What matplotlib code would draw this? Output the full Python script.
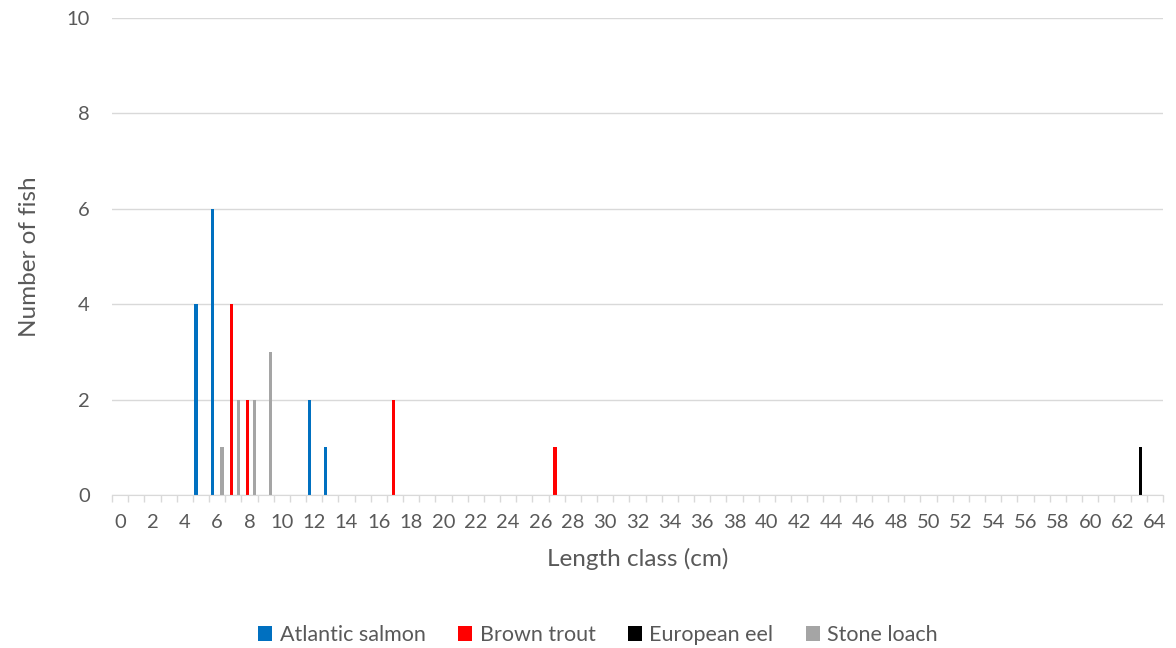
import numpy as np
import matplotlib.pyplot as plt
from matplotlib.patches import Patch

plt.rcParams['font.family'] = ['Lato', 'DejaVu Sans']

# classes de comprimento 0..64 cm
classes = np.arange(0, 65)

# contagens por espécie (classe: número de peixes)
salmon = {5: 4, 6: 6, 12: 2, 13: 1}
trout = {7: 4, 8: 2, 17: 2, 27: 1}
eel = {63: 1}
loach = {6: 1, 7: 2, 8: 2, 9: 3}

series_names = ['Atlantic salmon', 'Brown trout', 'European eel', 'Stone loach']
series_data = [salmon, trout, eel, loach]
series_colors = ['#0070c0', '#ff0000', '#000000', '#a5a5a5']

fig = plt.figure(figsize=(11.76, 6.48), dpi=100)
ax = fig.add_axes([112 / 1176, 1 - 495 / 648, (1163 - 112) / 1176, (495 - 18) / 648])

largura = 0.2
for i, (nome, dados, cor) in enumerate(zip(series_names, series_data, series_colors)):
    valores = np.array([dados.get(c, 0) for c in classes])
    ax.bar(classes + (i - 1.5) * largura, valores, width=largura, color=cor, label=nome, zorder=3)

ax.set_xlim(-0.5, 64.5)
ax.set_ylim(0, 10)
ax.set_yticks(np.arange(0, 11, 2))
ax.set_xticks(np.arange(0, 65, 2))
ax.set_xticks(np.arange(-0.5, 65, 1), minor=True)
ax.tick_params(axis='x', which='major', length=0, pad=14, labelsize=14.5, colors='#595959')
ax.tick_params(axis='x', which='minor', length=5, color='#d9d9d9', width=1)
ax.tick_params(axis='y', length=0, pad=16, labelsize=14.5, colors='#595959')

ax.grid(axis='y', color='#d9d9d9', linewidth=1, zorder=0)
for s in ['top', 'right', 'left']:
    ax.spines[s].set_visible(False)
ax.spines['bottom'].set_color('#d9d9d9')
ax.spines['bottom'].set_zorder(4)

ax.set_xlabel('Length class (cm)', fontsize=17.5, color='#595959', labelpad=12)
ax.set_ylabel('Number of fish', fontsize=17.5, color='#595959', labelpad=19)

handles = [Patch(facecolor=c, label=n) for n, c in zip(series_names, series_colors)]
fig.legend(handles=handles, loc='center', bbox_to_anchor=(598 / 1176, 1 - 635 / 648), ncol=4,
           frameon=False, fontsize=15.5, handlelength=0.65, handleheight=0.65, handletextpad=0.35,
           columnspacing=1.5, labelcolor='#595959')

fig.savefig('out.png', dpi=100)
